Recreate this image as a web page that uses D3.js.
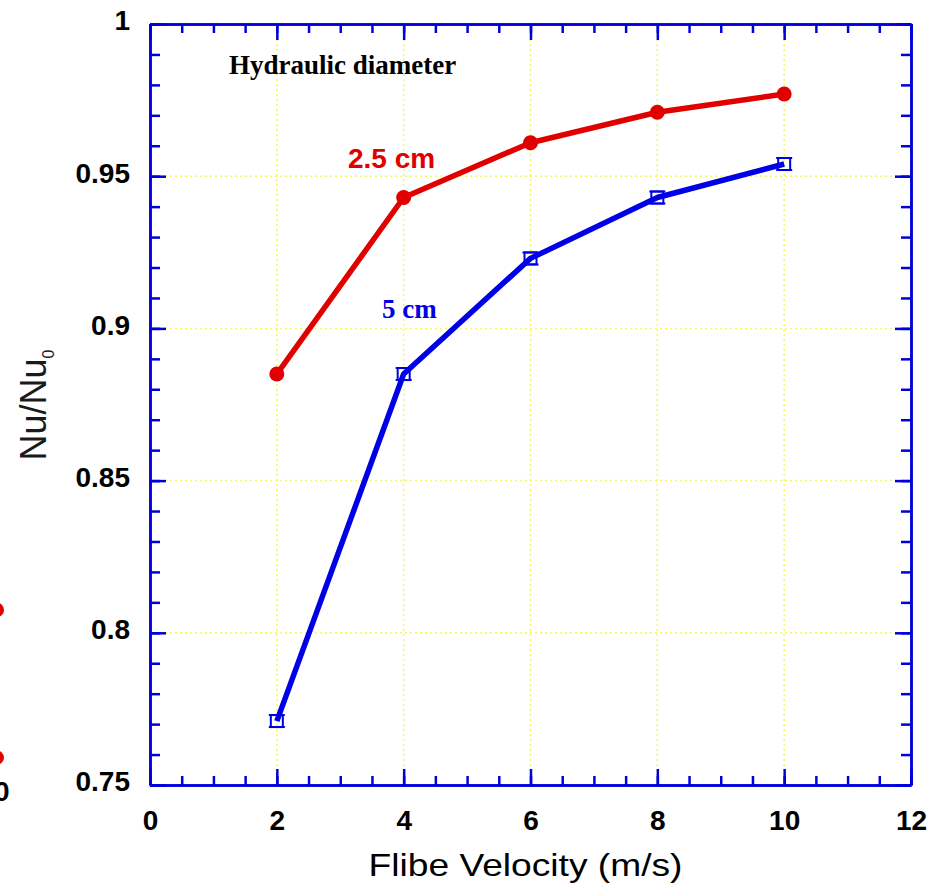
<!DOCTYPE html>
<html>
<head>
<meta charset="utf-8">
<script src="https://cdn.jsdelivr.net/npm/d3@7"></script>
<style>
  body { margin: 0; background: #fff; }
  svg { display: block; }
</style>
</head>
<body>
<svg width="944" height="891"></svg>
<script>
// data
const velocity = [2, 4, 6, 8, 10];
const nu25 = [0.885, 0.943, 0.961, 0.971, 0.977];   // 2.5 cm, red
const nu5 = [0.771, 0.885, 0.923, 0.943, 0.954];    // 5 cm, blue
const xTicks = [0, 2, 4, 6, 8, 10, 12];
const yTicks = [0.75, 0.8, 0.85, 0.9, 0.95, 1];
const xMinor = d3.range(0, 12.01, 0.5);
const yMinor = d3.range(0.75, 1.0001, 0.01);
// bits of the neighbouring panel that got cropped in at the left edge
const cropDots = [0.8075, 0.759];

const svg = d3.select("svg");
const margin = { top: 24, right: 33, bottom: 106, left: 150 };
const width = +svg.attr("width");
const height = +svg.attr("height");
const innerWidth = width - margin.left - margin.right;
const innerHeight = height - margin.top - margin.bottom;

const red = "#e00000";
const blue = "#0000e6";
const axisBlue = "#0000dd";
const sans = "'Liberation Sans', Arial, sans-serif";
const serif = "'Liberation Serif', 'Times New Roman', serif";

const x = d3.scaleLinear().domain([0, 12]).range([0, innerWidth]);
const y = d3.scaleLinear().domain([0.75, 1]).range([innerHeight, 0]);

const g = svg.append("g").attr("transform", `translate(${margin.left},${margin.top})`);

// yellow dotted grid on the major ticks
g.append("g").selectAll("line").data(velocity)
  .join("line")
    .attr("x1", d => x(d)).attr("x2", d => x(d))
    .attr("y1", 0).attr("y2", innerHeight)
    .attr("stroke", "#f6f660").attr("stroke-width", 1.5).attr("stroke-dasharray", "2,3");
g.append("g").selectAll("line").data(yTicks.slice(1, -1))
  .join("line")
    .attr("x1", 0).attr("x2", innerWidth)
    .attr("y1", d => y(d)).attr("y2", d => y(d))
    .attr("stroke", "#f6f660").attr("stroke-width", 1.5).attr("stroke-dasharray", "2,3");

// axes: major ticks long, minor short, all pointing inward
const styleAxis = sel => {
  sel.attr("font-family", sans).attr("font-size", 28).attr("font-weight", "bold");
  sel.selectAll(".domain").attr("stroke", axisBlue).attr("stroke-width", 2.5);
  sel.selectAll(".tick line").attr("stroke", axisBlue).attr("stroke-width", 2.5);
  sel.selectAll(".tick text").attr("fill", "#000");
};
const noLabels = sel => sel.selectAll(".tick text").remove();

g.append("g").attr("transform", `translate(0,${innerHeight})`)
  .call(d3.axisBottom(x).tickValues(xMinor).tickSizeInner(-9).tickSizeOuter(0))
  .call(styleAxis).call(noLabels);
g.append("g").attr("transform", `translate(0,${innerHeight})`)
  .call(d3.axisBottom(x).tickValues(xTicks).tickSizeInner(-16).tickSizeOuter(0).tickPadding(25).tickFormat(d3.format("d")))
  .call(styleAxis);
g.append("g")
  .call(d3.axisTop(x).tickValues(xMinor).tickSizeInner(-9).tickSizeOuter(0))
  .call(styleAxis).call(noLabels);
g.append("g")
  .call(d3.axisTop(x).tickValues(xTicks).tickSizeInner(-16).tickSizeOuter(0))
  .call(styleAxis).call(noLabels);

g.append("g")
  .call(d3.axisLeft(y).tickValues(yMinor).tickSizeInner(-10).tickSizeOuter(0))
  .call(styleAxis).call(noLabels);
const yAxisG = g.append("g")
  .call(d3.axisLeft(y).tickValues(yTicks).tickSizeInner(-16).tickSizeOuter(0).tickPadding(20).tickFormat(d => String(+d.toFixed(2))))
  .call(styleAxis);
yAxisG.selectAll(".tick text").attr("dy", "0.21em");
g.append("g").attr("transform", `translate(${innerWidth},0)`)
  .call(d3.axisRight(y).tickValues(yMinor).tickSizeInner(-10).tickSizeOuter(0))
  .call(styleAxis).call(noLabels);
g.append("g").attr("transform", `translate(${innerWidth},0)`)
  .call(d3.axisRight(y).tickValues(yTicks).tickSizeInner(-16).tickSizeOuter(0))
  .call(styleAxis).call(noLabels);

// series
const line = d3.line().x((d, i) => x(velocity[i])).y(d => y(d));

g.append("path").datum(nu25)
  .attr("fill", "none").attr("stroke", red).attr("stroke-width", 5.5)
  .attr("stroke-linejoin", "round").attr("d", line);
g.append("g").selectAll("circle").data(nu25)
  .join("circle")
    .attr("cx", (d, i) => x(velocity[i]))
    .attr("cy", d => y(d))
    .attr("r", 7.5)
    .attr("fill", red);

g.append("path").datum(nu5)
  .attr("fill", "none").attr("stroke", blue).attr("stroke-width", 5.5)
  .attr("stroke-linejoin", "round").attr("d", line);
const sq = g.append("g").selectAll("g").data(nu5)
  .join("g")
    .attr("transform", (d, i) => `translate(${x(velocity[i])},${y(d)})`);
sq.append("rect")
  .attr("x", -6).attr("y", -6).attr("width", 12).attr("height", 12)
  .attr("fill", "none").attr("stroke", blue).attr("stroke-width", 2);
sq.append("path")
  .attr("d", "M-8,-6H8M-8,6H8")
  .attr("stroke", blue).attr("stroke-width", 2);

// annotations
g.append("text")
  .attr("x", 79).attr("y", 50)
  .attr("font-family", serif)
  .attr("font-weight", "bold").attr("font-size", 27)
  .text("Hydraulic diameter");
g.append("text")
  .attr("x", 198).attr("y", 144)
  .attr("font-family", sans)
  .attr("font-weight", "bold").attr("font-size", 28)
  .attr("fill", red)
  .text("2.5 cm");
g.append("text")
  .attr("x", 232).attr("y", 294)
  .attr("font-family", serif)
  .attr("font-weight", "bold").attr("font-size", 27)
  .attr("fill", blue)
  .text("5 cm");

// axis titles
svg.append("text")
  .attr("x", margin.left + innerWidth / 2 - 5).attr("y", 876)
  .attr("text-anchor", "middle")
  .attr("font-family", sans)
  .attr("font-size", 32)
  .attr("textLength", 314).attr("lengthAdjust", "spacingAndGlyphs")
  .text("Flibe Velocity (m/s)");

const yTitle = svg.append("text")
  .attr("transform", "translate(46,405) rotate(-90)")
  .attr("text-anchor", "middle")
  .attr("font-family", sans)
  .attr("font-size", 36)
  .attr("fill", "#1a1a1a");
yTitle.append("tspan").text("Nu/Nu");
yTitle.append("tspan").attr("font-size", 16).attr("dy", 8).text("0");

// cropped neighbour panel pieces at the left edge
svg.append("g").selectAll("circle").data(cropDots)
  .join("circle")
    .attr("cx", -3).attr("cy", d => margin.top + y(d))
    .attr("r", 7).attr("fill", red);
svg.append("text")
  .attr("x", -6).attr("y", 801)
  .attr("font-family", sans)
  .attr("font-weight", "bold").attr("font-size", 28)
  .text("0");
</script>
</body>
</html>
